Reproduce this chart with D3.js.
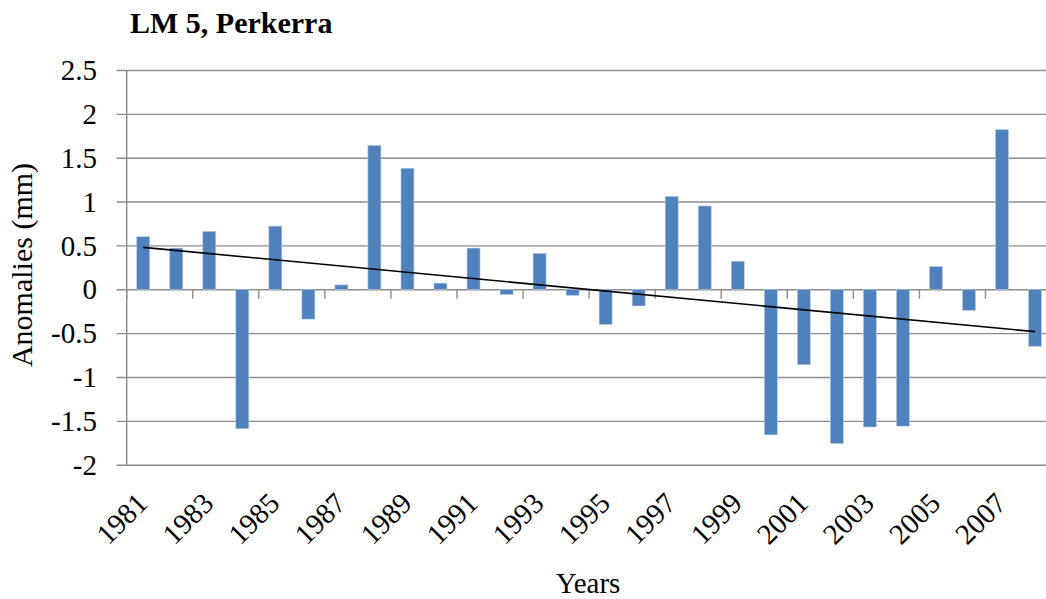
<!DOCTYPE html>
<html lang="en">
<head>
    <meta charset="UTF-8">
    <title>LM 5, Perkerra</title>
    <style>
        body {
            margin: 0;
            background: #fff;
        }
        .grid line {
            stroke: #8c8c8c;
            stroke-width: 1.4;
        }
        .grid path {
            display: none;
        }
    </style>
</head>
<body>
    <div id="chart"></div>

    <script src="https://d3js.org/d3.v7.min.js"></script>
    <script>
        // Years on the category axis
        const years = d3.range(1981, 2009).map(String);

        // Rainfall anomalies (mm), one per year
        const anomalies = [
            0.60, 0.47, 0.66, -1.59, 0.72, -0.34, 0.05, 1.64, 1.38, 0.07,
            0.47, -0.06, 0.41, -0.07, -0.40, -0.19, 1.06, 0.95, 0.32, -1.66,
            -0.86, -1.76, -1.57, -1.56, 0.26, -0.24, 1.82, -0.65
        ];

        // Tick values for the y axis
        const yTicks = [-2, -1.5, -1, -0.5, 0, 0.5, 1, 1.5, 2, 2.5];

        // Only every second year is labelled
        const xLabels = years.filter((d, i) => i % 2 === 0);

        const FONT = "'Liberation Serif', 'DejaVu Serif', Times, serif";
        const W = 1046, H = 599;
        const plotLeft = 126.7, plotTop = 70, plotBottom = 464.7;
        const step = 33.03;
        const plotRight = plotLeft + step * years.length;

        const svg = d3.select("#chart")
            .append("svg")
            .attr("width", W)
            .attr("height", H)
            .attr("font-family", FONT);

        const x = d3.scaleBand()
            .domain(years)
            .range([plotLeft, plotRight])
            .padding(0);

        const y = d3.scaleLinear()
            .domain([-2, 2.5])
            .range([plotBottom, plotTop]);

        // Gridlines + outer ticks on the left
        svg.append("g")
            .attr("class", "grid")
            .attr("transform", `translate(${plotLeft},0)`)
            .call(d3.axisLeft(y).tickValues(yTicks).tickSize(10).tickFormat(""))
            .call(g => g.selectAll(".tick line").attr("x2", -10).attr("x1", plotRight - plotLeft));

        // Y tick labels
        svg.append("g")
            .selectAll("text")
            .data(yTicks)
            .enter()
            .append("text")
            .attr("x", 97)
            .attr("y", d => y(d))
            .attr("dy", "0.35em")
            .attr("text-anchor", "end")
            .style("font-family", FONT)
            .style("font-size", "29px")
            .text(d => d);

        // Vertical axis line
        svg.append("line")
            .attr("x1", plotLeft).attr("x2", plotLeft)
            .attr("y1", plotTop).attr("y2", plotBottom)
            .attr("stroke", "#8c8c8c")
            .attr("stroke-width", 1.4);

        // Bars
        const barW = 13;
        svg.selectAll(".bar")
            .data(anomalies)
            .enter()
            .append("rect")
            .attr("class", "bar")
            .attr("x", (d, i) => x(years[i]) + (x.bandwidth() - barW) / 2)
            .attr("y", d => y(Math.max(0, d)))
            .attr("width", barW)
            .attr("height", d => Math.abs(y(d) - y(0)))
            .attr("fill", "#4f81bd")
            .attr("stroke", "#b9cde5")
            .attr("stroke-width", 0.6);

        // Tick marks on the zero line, every second category boundary
        svg.append("g")
            .selectAll("line")
            .data(xLabels)
            .enter()
            .append("line")
            .attr("x1", d => x(d))
            .attr("x2", d => x(d))
            .attr("y1", y(0))
            .attr("y2", y(0) + 9.5)
            .attr("stroke", "#8c8c8c")
            .attr("stroke-width", 1.4);

        // Linear trendline (least squares over the series)
        const idx = anomalies.map((d, i) => i);
        const mx = d3.mean(idx), my = d3.mean(anomalies);
        const slope = d3.sum(idx, i => (i - mx) * (anomalies[i] - my)) / d3.sum(idx, i => (i - mx) * (i - mx));
        const icpt = my - slope * mx;
        const cx = i => x(years[i]) + x.bandwidth() / 2;
        const last = anomalies.length - 1;
        svg.append("line")
            .attr("x1", cx(0)).attr("y1", y(icpt))
            .attr("x2", cx(last)).attr("y2", y(icpt + slope * last))
            .attr("stroke", "#000")
            .attr("stroke-width", 1.6);

        // X labels, rotated
        svg.append("g")
            .selectAll("text")
            .data(xLabels)
            .enter()
            .append("text")
            .attr("transform", d => `translate(${x(d) + x.bandwidth() / 2 + 6},${505}) rotate(-45)`)
            .attr("text-anchor", "end")
            .style("font-family", FONT)
            .style("font-size", "29px")
            .text(d => d);

        // Title
        svg.append("text")
            .attr("x", 130)
            .attr("y", 33)
            .style("font-family", FONT)
            .style("font-size", "30px")
            .style("font-weight", "bold")
            .text("LM 5, Perkerra");

        // Axis titles
        svg.append("text")
            .attr("x", 588)
            .attr("y", 593)
            .attr("text-anchor", "middle")
            .style("font-family", FONT)
            .style("font-size", "29px")
            .text("Years");

        svg.append("text")
            .attr("transform", "translate(32,265) rotate(-90)")
            .attr("text-anchor", "middle")
            .style("font-family", FONT)
            .style("font-size", "30px")
            .text("Anomalies (mm)");
    </script>
</body>
</html>
